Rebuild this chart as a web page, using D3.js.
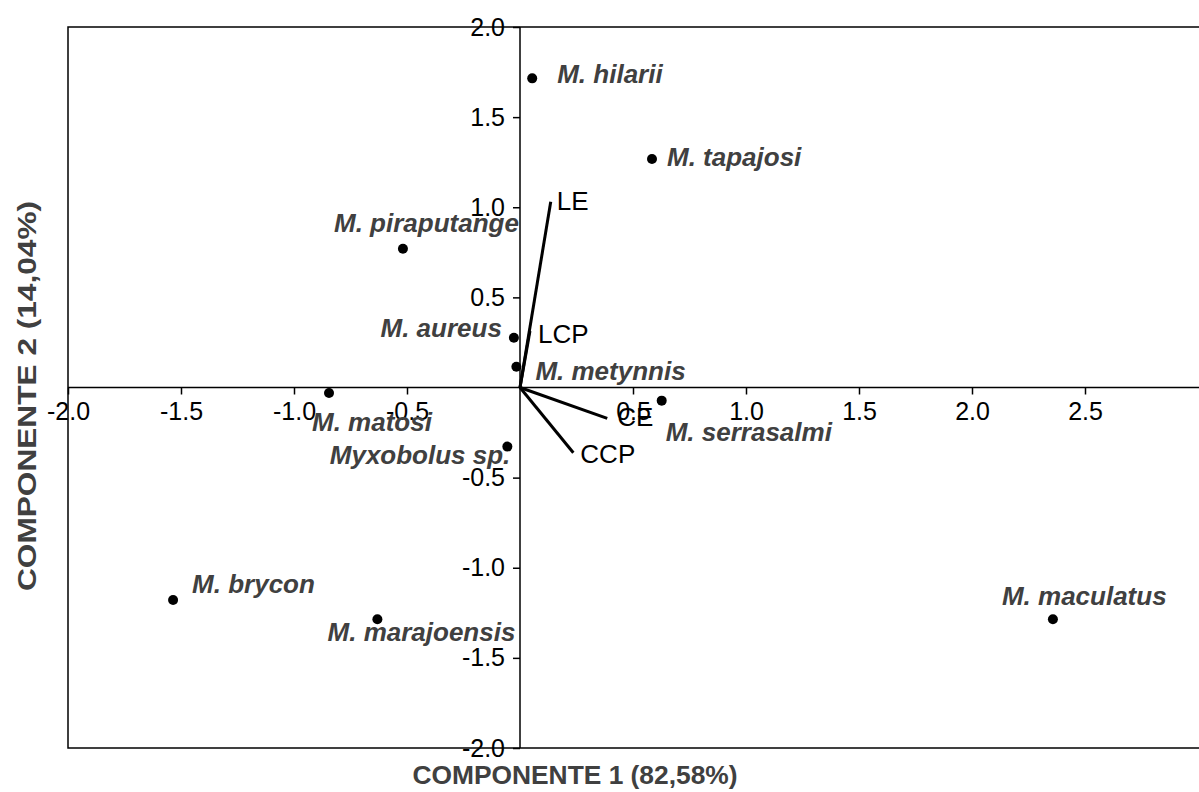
<!DOCTYPE html>
<html>
  <head>
    <meta charset="utf-8">
    <title>PCA biplot</title>
    <script src="https://d3js.org/d3.v7.min.js"></script>
    <style type="text/css">
    body { margin: 0; background: #fff; }
    svg text { font-family: "Liberation Sans", Arial, sans-serif; }
    .tick text { font-size: 25px; fill: #000; }
    .species { font-size: 26px; font-weight: bold; font-style: italic; fill: #404040; }
    .vlabel { font-size: 26px; fill: #000; }
    .title { font-size: 26px; font-weight: bold; fill: #404040; }
    </style>
  </head>
  <body>
    <div id="chart"></div>
    <script>
      // species scores (componente 1, componente 2)
      var species = ["M. hilarii", "M. tapajosi", "M. piraputange", "M. aureus", "M. metynnis",
                     "M. matosi", "M. serrasalmi", "Myxobolus sp.", "M. brycon",
                     "M. marajoensis", "M. maculatus"];
      var comp1 = [0.054, 0.584, -0.518, -0.027, -0.016, -0.845, 0.627, -0.056, -1.535, -0.631, 2.358];
      var comp2 = [1.715, 1.268, 0.770, 0.276, 0.115, -0.031, -0.073, -0.328, -1.179, -1.286, -1.286];

      // variable loadings
      var variables = ["LE", "LCP", "CE", "CCP"];
      var load1 = [0.136, 0.044, 0.386, 0.236];
      var load2 = [1.031, 0.313, -0.171, -0.362];

      var xTicks = [-2.0, -1.5, -1.0, -0.5, 0.5, 1.0, 1.5, 2.0, 2.5];
      var yTicks = [2.0, 1.5, 1.0, 0.5, -0.5, -1.0, -1.5, -2.0];

      // label placement (pixels from the mark), anchor
      var spOffset = {
        "M. hilarii": [25, 5, "start"],
        "M. tapajosi": [15, 7, "start"],
        "M. piraputange": [116, -17, "end"],
        "M. aureus": [-12, -1, "end"],
        "M. metynnis": [19, 13, "start"],
        "M. matosi": [-17, 38, "start"],
        "M. serrasalmi": [4, 40, "start"],
        "Myxobolus sp.": [3, 17, "end"],
        "M. brycon": [19, -7, "start"],
        "M. marajoensis": [138, 22, "end"],
        "M. maculatus": [-51, -14, "start"]
      };
      var vOffset = {"LE": [6, 8], "LCP": [8, 12], "CE": [10, 8], "CCP": [7, 10]};

      var width = 1199, height = 792;
      var x = d3.scaleLinear().domain([-2, 3]).range([68, 1198]);
      var y = d3.scaleLinear().domain([-2, 2]).range([748, 27]);

      var svg = d3.select('#chart').append('svg')
          .attr('width', width)
          .attr('height', height);

      // frame
      svg.append('rect')
          .attr('x', x(-2)).attr('y', y(2))
          .attr('width', 1210 - x(-2)).attr('height', y(-2) - y(2))
          .attr('fill', 'none').attr('stroke', '#000').attr('stroke-width', 1.5);

      // axes through origin
      var xAxis = svg.append('g')
          .attr('transform', 'translate(0,' + y(0) + ')')
          .call(d3.axisBottom(x).tickValues(xTicks).tickFormat(d3.format('.1f'))
                .tickSizeInner(7).tickSizeOuter(0).tickPadding(8));
      var yAxis = svg.append('g')
          .attr('transform', 'translate(' + x(0) + ',0)')
          .call(d3.axisLeft(y).tickValues(yTicks).tickFormat(d3.format('.1f'))
                .tickSizeInner(7).tickSizeOuter(0).tickPadding(8));
      [xAxis, yAxis].forEach(function(g){
        g.attr('font-size', null).attr('font-family', null);
        g.select('.domain').remove();
        g.selectAll('.tick line').attr('stroke', '#000').attr('stroke-width', 1.5);
        g.selectAll('.tick text').text(function(d){ return d3.format('.1f')(d).replace('−', '-'); });
      });

      svg.append('line')
          .attr('x1', x(-2)).attr('x2', 1210)
          .attr('y1', y(0)).attr('y2', y(0))
          .attr('stroke', '#000').attr('stroke-width', 1.5);
      svg.append('line')
          .attr('x1', x(0)).attr('x2', x(0))
          .attr('y1', y(2)).attr('y2', y(-2))
          .attr('stroke', '#000').attr('stroke-width', 1.5);

      // loading vectors
      var vIdx = d3.range(variables.length);
      svg.selectAll('.vec')
        .data(vIdx)
        .enter()
        .append('line')
        .attr('class', 'vec')
        .attr('x1', x(0)).attr('y1', y(0))
        .attr('x2', function(i){ return x(load1[i]); })
        .attr('y2', function(i){ return y(load2[i]); })
        .attr('stroke', '#000')
        .attr('stroke-width', 3);
      svg.selectAll('.vlabel')
        .data(vIdx)
        .enter()
        .append('text')
        .attr('class', 'vlabel')
        .attr('x', function(i){ return x(load1[i]) + vOffset[variables[i]][0]; })
        .attr('y', function(i){ return y(load2[i]) + vOffset[variables[i]][1]; })
        .text(function(i){ return variables[i]; });

      // species points
      var sIdx = d3.range(species.length);
      svg.selectAll('.pt')
        .data(sIdx)
        .enter()
        .append('circle')
        .attr('class', 'pt')
        .attr('cx', function(i){ return x(comp1[i]); })
        .attr('cy', function(i){ return y(comp2[i]); })
        .attr('r', 5)
        .attr('fill', '#000');
      svg.selectAll('.species')
        .data(sIdx)
        .enter()
        .append('text')
        .attr('class', 'species')
        .attr('x', function(i){ return x(comp1[i]) + spOffset[species[i]][0]; })
        .attr('y', function(i){ return y(comp2[i]) + spOffset[species[i]][1]; })
        .attr('text-anchor', function(i){ return spOffset[species[i]][2]; })
        .text(function(i){ return species[i]; });

      // axis titles
      svg.append('text')
          .attr('class', 'title')
          .attr('x', 575).attr('y', 784)
          .attr('text-anchor', 'middle')
          .attr('textLength', 325).attr('lengthAdjust', 'spacingAndGlyphs')
          .text('COMPONENTE 1 (82,58%)');
      svg.append('text')
          .attr('class', 'title')
          .attr('transform', 'translate(36,396) rotate(-90)')
          .attr('text-anchor', 'middle')
          .attr('textLength', 390).attr('lengthAdjust', 'spacingAndGlyphs')
          .text('COMPONENTE 2 (14,04%)');
    </script>
  </body>
</html>
